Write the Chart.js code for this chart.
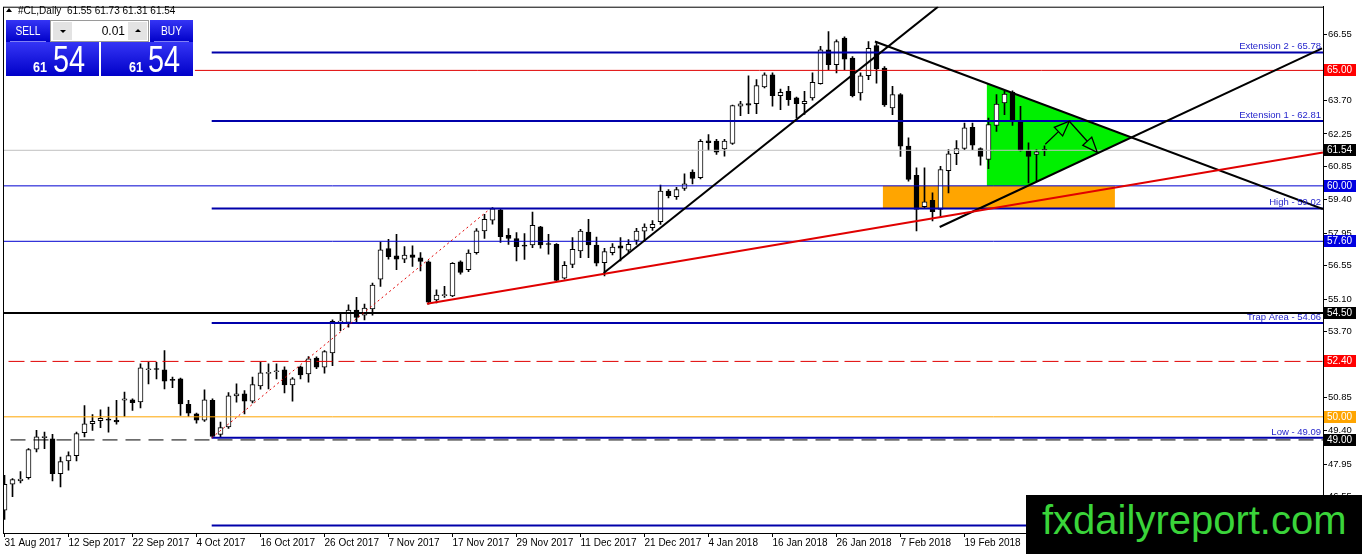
<!DOCTYPE html>
<html>
<head>
<meta charset="utf-8">
<script src="https://cdn.jsdelivr.net/npm/chart.js@4.4.1/dist/chart.umd.min.js"></script>
<style>
  html, body { margin: 0; padding: 0; background: #fff; }
  #wrap { position: relative; width: 1362px; height: 554px; overflow: hidden; font-family: "Liberation Sans", Arial, sans-serif; }
  #chart { position: absolute; left: 0; top: 0; }
  .abs { position: absolute; white-space: nowrap; }
  #hdr { font-size: 10px; color: #000; top: 5px; height: 12px; line-height: 12px; }
  #tri { left: 6px; top: 8px; width: 0; height: 0; border-left: 3px solid transparent; border-right: 3px solid transparent; border-bottom: 4px solid #000; }
  .btn { background: linear-gradient(#3535f5, #0000c8); color: #fff; }
  .btn .cap { position: absolute; left: 0; right: 0; top: 4px; text-align: center; font-size: 12px; line-height: 14px; transform: scaleX(0.85); }
  .btn .sep { position: absolute; left: 4px; right: 4px; bottom: 0; height: 1px; background: rgba(160,160,255,0.8); }
  .sm { font-size: 14px; font-weight: bold; line-height: 14px; transform: scaleX(0.9); transform-origin: left top; }
  .lg { font-size: 37px; line-height: 37px; transform: scaleX(0.78); transform-origin: left top; }
  #spin { left: 50px; top: 20px; width: 97px; height: 20px; border: 1px solid #9a9a9a; background: #fff; }
  .sb { position: absolute; top: 1px; width: 19px; height: 18px; background: #e3e3e3; }
  .dn { position: absolute; left: 7px; top: 8px; border-left: 3px solid transparent; border-right: 3px solid transparent; border-top: 3px solid #000; }
  .up { position: absolute; left: 7px; top: 7px; border-left: 3px solid transparent; border-right: 3px solid transparent; border-bottom: 3px solid #000; }
  #lot { position: absolute; right: 23px; top: 3px; font-size: 12px; line-height: 14px; color: #000; }
  #wm { left: 1026px; top: 495px; width: 336px; height: 59px; background: #000; }
  #wm span { position: absolute; left: 16px; top: 5px; font-size: 40px; line-height: 40px; color: #3ad43a; }
</style>
</head>
<body>
<div id="wrap">
  <canvas id="chart" width="1362" height="554"></canvas>

  <div id="tri" class="abs"></div>
  <div id="hdr" class="abs" style="left:18px">#CL,Daily&nbsp;&nbsp;61.55 61.73 61.31 61.54</div>

  <div class="abs btn" style="left:6px;top:20px;width:44px;height:22px"><div class="cap">SELL</div><div class="sep"></div></div>
  <div id="spin" class="abs">
    <div class="sb" style="left:2px"><div class="dn"></div></div>
    <div id="lot">0.01</div>
    <div class="sb" style="right:1px"><div class="up"></div></div>
  </div>
  <div class="abs btn" style="left:150px;top:20px;width:43px;height:22px"><div class="cap">BUY</div><div class="sep"></div></div>

  <div class="abs btn" style="left:6px;top:42px;width:93px;height:34px"></div>
  <div class="abs btn" style="left:101px;top:42px;width:92px;height:34px"></div>
  <div class="abs sm" style="left:33px;top:60px;color:#fff">61</div>
  <div class="abs lg" style="left:53px;top:41px;color:#fff">54</div>
  <div class="abs sm" style="left:129px;top:60px;color:#fff">61</div>
  <div class="abs lg" style="left:148px;top:41px;color:#fff">54</div>

  <div id="wm" class="abs"><span>fxdailyreport.com</span></div>
</div>

<script>
// daily bars, 31 Aug 2017 .. 5 Mar 2018 (one entry per bar)
const opens = [
  45.96, 47.08, 47.23, 47.37, 48.60, 49.10, 49.05, 47.54, 48.09, 48.32,
  49.31, 49.70, 49.83, 49.90, 49.85, 50.72, 50.74, 50.65, 52.04, 52.08,
  52.03, 51.60, 51.64, 50.54, 50.13, 49.85, 50.71, 49.24, 49.56, 50.91,
  51.00, 50.68, 51.34, 51.88, 51.95, 52.03, 51.38, 52.17, 51.86, 52.54,
  52.15, 52.77, 54.10, 54.09, 54.62, 54.40, 54.67, 55.96, 57.29, 56.97,
  56.83, 57.01, 56.88, 56.71, 55.06, 55.25, 55.24, 56.71, 56.37, 57.11,
  58.05, 58.52, 58.96, 57.86, 57.72, 57.40, 57.44, 58.23, 57.48, 57.47,
  56.00, 56.60, 57.18, 58.00, 57.44, 56.68, 57.11, 57.40, 57.22, 57.64,
  58.04, 58.19, 58.45, 59.77, 59.53, 59.89, 60.60, 60.35, 61.95, 61.94,
  61.60, 61.84, 63.45, 63.56, 63.56, 64.28, 64.81, 63.91, 64.09, 63.81,
  63.56, 63.81, 64.43, 65.89, 65.25, 66.40, 65.53, 64.02, 64.77, 66.07,
  65.10, 63.37, 63.95, 61.72, 60.46, 59.10, 59.37, 58.98, 60.66, 61.39,
  61.62, 62.54, 61.62, 61.15, 62.62, 63.59, 64.06, 62.82, 61.53, 61.36,
  61.55
];
const highs = [
  47.47, 47.33, 47.63, 48.62, 49.42, 49.34, 49.24, 48.26, 48.48, 49.34,
  50.49, 50.10, 50.30, 50.42, 50.71, 51.07, 50.78, 52.29, 52.36, 52.36,
  52.87, 51.72, 51.68, 50.71, 50.16, 51.17, 50.78, 49.77, 51.05, 51.43,
  51.14, 51.72, 52.36, 52.29, 52.29, 52.17, 51.70, 52.20, 52.61, 52.60,
  52.87, 54.20, 54.48, 54.85, 55.17, 54.88, 55.79, 57.57, 57.69, 57.90,
  57.37, 57.40, 57.11, 56.75, 55.50, 55.65, 56.68, 56.75, 57.23, 58.15,
  58.77, 59.06, 59.01, 58.15, 57.98, 57.93, 58.86, 58.25, 57.90, 57.50,
  56.72, 57.76, 58.12, 58.55, 57.78, 57.30, 57.50, 57.76, 57.68, 58.16,
  58.36, 58.50, 60.03, 59.84, 59.94, 60.52, 60.70, 62.00, 62.22, 62.01,
  62.01, 63.50, 63.66, 64.77, 64.60, 64.89, 64.89, 64.19, 64.31, 63.85,
  64.09, 64.89, 66.04, 66.68, 66.32, 66.45, 65.60, 64.89, 66.25, 66.25,
  65.17, 64.31, 64.00, 62.08, 60.78, 60.78, 59.70, 60.85, 61.57, 61.96,
  62.72, 62.72, 61.65, 62.94, 63.95, 64.12, 64.12, 63.44, 61.86, 61.57,
  61.73
];
const lows = [
  45.56, 46.54, 47.14, 47.30, 48.48, 48.62, 47.23, 46.97, 47.69, 48.09,
  49.13, 49.41, 49.53, 49.34, 49.68, 50.02, 50.28, 50.39, 51.43, 51.64,
  51.21, 51.26, 50.06, 50.02, 49.73, 49.80, 49.10, 49.10, 49.50, 50.64,
  50.13, 50.60, 51.20, 51.21, 51.64, 51.03, 50.68, 51.64, 51.50, 52.08,
  51.89, 52.22, 53.73, 53.88, 54.10, 54.20, 54.40, 55.65, 56.83, 56.37,
  56.68, 56.51, 56.32, 54.88, 54.93, 55.17, 55.20, 56.18, 56.28, 57.04,
  57.72, 58.34, 57.55, 57.47, 56.75, 56.82, 57.32, 57.30, 57.04, 55.88,
  55.96, 56.46, 56.89, 56.89, 56.53, 56.10, 57.01, 56.75, 57.11, 57.47,
  57.61, 58.07, 58.33, 59.48, 59.41, 59.80, 60.09, 60.30, 61.55, 61.36,
  61.29, 61.79, 63.04, 63.13, 63.13, 64.24, 63.45, 63.30, 63.48, 62.94,
  63.09, 63.71, 64.40, 65.03, 64.89, 65.03, 63.85, 63.71, 64.60, 64.45,
  63.44, 63.08, 61.28, 60.20, 58.05, 59.05, 58.48, 58.62, 59.70, 60.92,
  61.57, 61.57, 60.90, 60.75, 62.36, 63.08, 62.62, 61.50, 60.13, 60.18,
  61.31
];
const closes = [
  47.08, 47.28, 47.31, 48.58, 49.13, 49.15, 47.54, 48.06, 48.32, 49.27,
  49.70, 49.80, 49.93, 49.85, 49.78, 50.78, 50.61, 52.12, 52.08, 52.05,
  51.54, 51.58, 50.56, 50.16, 49.85, 50.74, 49.15, 49.53, 50.91, 51.00,
  50.68, 51.40, 51.90, 51.92, 51.98, 51.38, 51.64, 51.82, 52.51, 52.15,
  52.82, 54.13, 54.15, 54.62, 54.30, 54.71, 55.70, 57.23, 56.94, 56.83,
  57.00, 56.90, 56.73, 54.96, 55.27, 55.28, 56.65, 56.25, 57.09, 58.05,
  58.55, 59.01, 57.80, 57.72, 57.37, 57.39, 58.29, 57.44, 57.46, 55.91,
  56.56, 57.25, 58.04, 57.44, 56.65, 57.15, 57.35, 57.30, 57.47, 58.04,
  58.22, 58.33, 59.77, 59.58, 59.84, 60.09, 60.32, 61.93, 61.87, 61.46,
  61.94, 63.48, 63.55, 63.49, 64.34, 64.81, 63.91, 64.05, 63.73, 63.56,
  63.66, 64.48, 65.89, 65.25, 66.25, 65.49, 63.91, 64.77, 65.96, 65.06,
  63.51, 63.95, 61.72, 60.28, 58.98, 59.31, 58.88, 60.71, 61.39, 61.62,
  62.51, 61.76, 61.28, 62.65, 63.54, 63.97, 62.82, 61.53, 61.28, 61.47,
  61.54
];

// date labels, one every 8 bars
const dateLabels = ['31 Aug 2017', '12 Sep 2017', '22 Sep 2017', '4 Oct 2017', '16 Oct 2017',
  '26 Oct 2017', '7 Nov 2017', '17 Nov 2017', '29 Nov 2017', '11 Dec 2017', '21 Dec 2017',
  '4 Jan 2018', '16 Jan 2018', '26 Jan 2018', '7 Feb 2018', '19 Feb 2018', '1 Mar 2018'];
const priceTicks = [66.55, 65.10, 63.70, 62.25, 60.85, 59.40, 57.95, 56.55, 55.10, 53.70,
  52.25, 50.85, 49.40, 47.95, 46.55];

// fibo expansion levels (drawn from the swing low onwards)
const fiboLevels = [65.78, 62.81, 59.02, 54.06, 49.09, 45.30];
const fiboNames = ['Extension 2', 'Extension 1', 'High', 'Trap Area', 'Low', ''];
const fiboStart = 25.9;

// marked price levels with their axis boxes
const markLevels = [65.00, 61.54, 60.00, 57.60, 54.50, 52.40, 50.00, 49.00];
const markColors = ['#ff0000', '#000000', '#0000e0', '#0000e0', '#000000', '#ff0000', '#ffa500', '#000000'];

// trend lines: [bar, price] pairs
const trendUp1 = [[74.9, 56.23], [116.7, 67.76]];
const trendRed = [[52.8, 54.90], [164.8, 61.45]];
const trendDown = [[108.8, 66.25], [164.8, 59.00]];
const trendUp2 = [[116.9, 58.22], [164.7, 65.95]];
const fiboBase = [[25.9, 49.09], [60.5, 58.95]];

// zones
const boxZone = [[109.8, 60.00], [138.8, 60.00], [138.8, 59.02], [109.8, 59.02]];
const triangle = [[122.8, 64.43], [140.9, 62.10], [122.8, 59.17]];
const overlap = [[122.8, 60.00], [127.9, 60.00], [122.8, 59.17]];
const zigzag = [[130.1, 61.80], [133.1, 62.80], [136.6, 61.45]];

const pts = arr => arr.map(p => ({ x: p[0], y: p[1] }));
const closed = arr => pts(arr.concat([arr[0]]));

const bars = opens.map((o, i) => i);
const wickData = bars.map(i => ({ x: i, y: [lows[i], highs[i]] }));
const bodyData = bars.map(i => ({ x: i, y: [Math.min(opens[i], closes[i]), Math.max(opens[i], closes[i])] }));
const bodyFill = bars.map(i => closes[i] >= opens[i] ? '#ffffff' : '#000000');

function line(data, color, width, dash, order) {
  return { type: 'line', data: data, borderColor: color, borderWidth: width, borderDash: dash || [],
    pointRadius: 0, fill: false, tension: 0, order: order };
}
function level(y, from, color, width, dash) {
  return line([{ x: from, y: y }, { x: 200, y: y }], color, width, dash, 1);
}
function zone(arr, color) {
  return { type: 'line', data: closed(arr), borderWidth: 0, backgroundColor: color,
    pointRadius: 0, fill: 'shape', tension: 0, order: 10 };
}

const datasets = [
  zone(boxZone, '#ffa500'),
  zone(triangle, '#00f000'),
  zone(overlap, '#2196f3'),
  { type: 'bar', data: wickData, backgroundColor: '#000', barThickness: 1, grouped: false, order: 3 },
  { type: 'bar', data: bodyData, backgroundColor: bodyFill, borderColor: '#000', borderWidth: 1,
    borderSkipped: false, barThickness: 5, minBarLength: 1, grouped: false, order: 2 },
  level(61.54, -5, '#c0c0c0', 1),
  level(60.00, -5, '#0000d0', 1),
  level(57.60, -5, '#0000d0', 1),
  level(54.50, -5, '#000000', 2),
  level(52.40, -5, '#e00000', 1, [16, 6]),
  level(50.00, -5, '#ffa500', 1),
  level(49.00, -5, '#000000', 1, [15, 8]),
  level(65.00, 23.8, '#e00000', 1),
  ...fiboLevels.map(v => level(v, fiboStart, '#0000aa', 2)),
  line(pts(fiboBase), '#e00000', 1, [2, 3], 0),
  line(pts(trendUp1), '#000', 2, [], 0),
  line(pts(trendRed), '#e00000', 2, [], 0),
  line(pts(trendDown), '#000', 2, [], 0),
  line(pts(trendUp2), '#000', 2, [], 0)
];

const overlay = {
  id: 'overlay',
  afterDatasetsDraw(chart) {
    const { ctx, chartArea: a, scales: { x, y } } = chart;
    ctx.save();
    ctx.beginPath();
    ctx.rect(a.left, a.top, a.right - a.left, a.bottom - a.top);
    ctx.clip();
    // zigzag arrows
    ctx.strokeStyle = '#000';
    ctx.lineWidth = 1.3;
    for (let k = 0; k < zigzag.length - 1; k++) {
      const x0 = x.getPixelForValue(zigzag[k][0]), y0 = y.getPixelForValue(zigzag[k][1]);
      const x1 = x.getPixelForValue(zigzag[k + 1][0]), y1 = y.getPixelForValue(zigzag[k + 1][1]);
      const ang = Math.atan2(y1 - y0, x1 - x0);
      const len = 15, half = 6;
      const bx = x1 - len * Math.cos(ang), by = y1 - len * Math.sin(ang);
      const px = -Math.sin(ang) * half, py = Math.cos(ang) * half;
      ctx.beginPath();
      ctx.moveTo(x0, y0);
      ctx.lineTo(bx, by);
      ctx.stroke();
      ctx.beginPath();
      ctx.moveTo(x1, y1);
      ctx.lineTo(bx + px, by + py);
      ctx.lineTo(bx + px * 0.4, by + py * 0.4);
      ctx.lineTo(bx - px * 0.4, by - py * 0.4);
      ctx.lineTo(bx - px, by - py);
      ctx.closePath();
      ctx.stroke();
    }
    // fibo captions
    ctx.fillStyle = '#2626cc';
    ctx.font = '9.5px "Liberation Sans", Arial, sans-serif';
    ctx.textAlign = 'right';
    ctx.textBaseline = 'bottom';
    fiboLevels.forEach((v, i) => {
      if (!fiboNames[i]) return;
      ctx.fillText(fiboNames[i] + ' - ' + v.toFixed(2), a.right - 2, y.getPixelForValue(v) - 1);
    });
    ctx.restore();
  },
  afterDraw(chart) {
    const { ctx, chartArea: a, scales: { y } } = chart;
    ctx.save();
    ctx.strokeStyle = '#000';
    ctx.lineWidth = 1;
    ctx.strokeRect(a.left + 0.5, a.top + 0.5, a.right - a.left, a.bottom - a.top);
    ctx.font = '10px "Liberation Sans", Arial, sans-serif';
    ctx.textAlign = 'left';
    ctx.textBaseline = 'middle';
    markLevels.forEach((v, i) => {
      const py = Math.round(y.getPixelForValue(v));
      ctx.fillStyle = markColors[i];
      ctx.fillRect(a.right + 1, py - 6, 32, 12);
      ctx.fillStyle = '#fff';
      ctx.fillText(v.toFixed(2), a.right + 4, py + 0.5);
    });
    ctx.restore();
  }
};

Chart.defaults.font.family = '"Liberation Sans", Arial, sans-serif';
Chart.defaults.color = '#000';

new Chart(document.getElementById('chart'), {
  type: 'bar',
  data: { datasets: datasets },
  options: {
    responsive: false,
    animation: false,
    events: [],
    layout: { padding: { left: 3, top: 5, right: 0, bottom: 0 } },
    plugins: { legend: { display: false }, tooltip: { enabled: false } },
    scales: {
      x: {
        type: 'linear',
        min: -0.1875,
        max: 164.8125,
        offset: false,
        afterFit: s => { s.height = 21; },
        afterBuildTicks: s => { s.ticks = dateLabels.map((t, i) => ({ value: i * 8 })); },
        ticks: {
          autoSkip: false, maxRotation: 0, align: 'start', padding: 0,
          font: { size: 10 }, color: '#000',
          callback: v => dateLabels[Math.round(v / 8)]
        },
        grid: { display: true, drawOnChartArea: false, drawTicks: true, tickLength: 4, color: '#000', offset: false },
        border: { display: true, color: '#000' }
      },
      y: {
        position: 'right',
        min: 44.97,
        max: 67.758,
        afterFit: s => { s.width = 39; },
        afterBuildTicks: s => { s.ticks = priceTicks.map(v => ({ value: v })); },
        ticks: { autoSkip: false, padding: 1, font: { size: 9.5 }, color: '#000', callback: v => v.toFixed(2) },
        grid: { display: true, drawOnChartArea: false, drawTicks: true, tickLength: 4, color: '#000' },
        border: { display: true, color: '#000' }
      }
    }
  },
  plugins: [overlay]
});
</script>
</body>
</html>
